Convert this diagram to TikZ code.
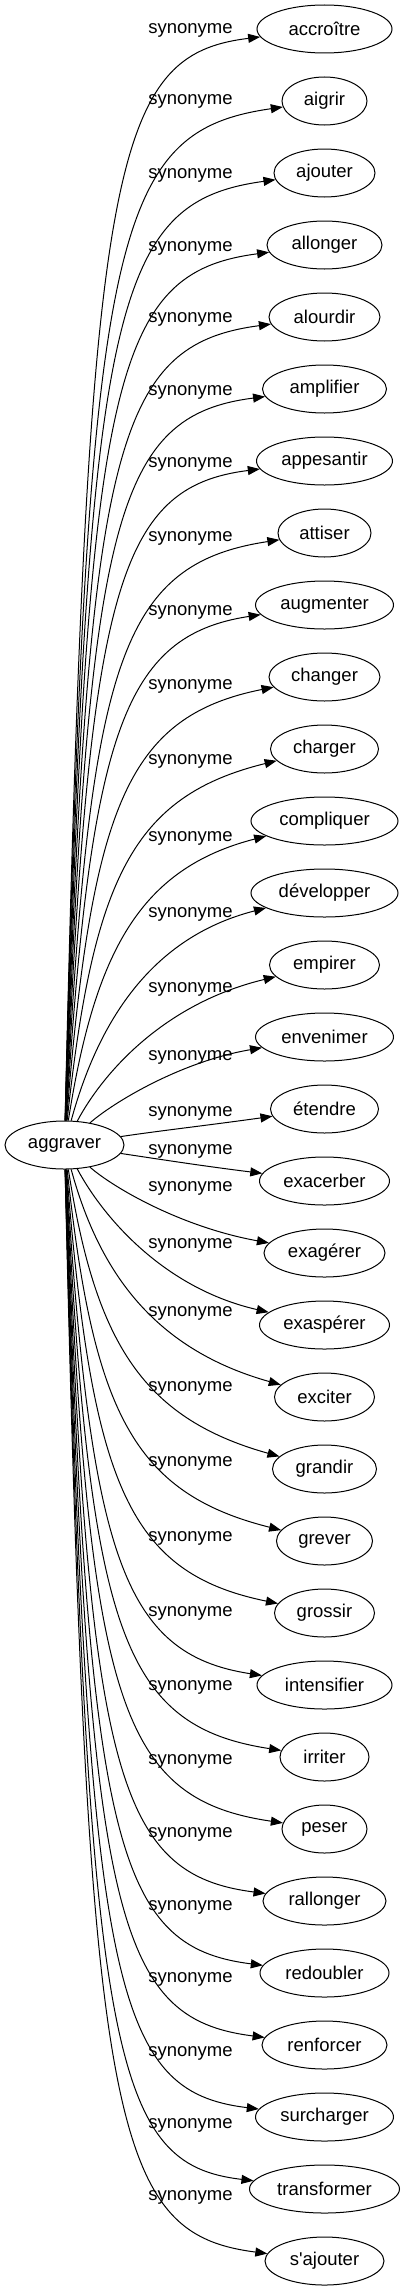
\documentclass[tikz,border=0pt]{standalone}
\usepackage{fontspec}
\setmainfont{Liberation Sans}
\usetikzlibrary{arrows.meta, shapes.geometric}

\begin{document}
\begin{tikzpicture}[
    x=1pt, y=-1pt,
    word/.style={
        ellipse,
        draw=black,
        line width=1pt,
        inner sep=0pt,
        minimum height=48pt,
        font=\fontsize{18.5}{22}\selectfont,
      },
    arr/.style={line width=1pt, -{Triangle[length=12pt, width=9pt]}},
    lbl/.style={font=\fontsize{18.5}{22}\selectfont, inner sep=0pt},
  ]
  \useasboundingbox (0,0) rectangle (404,2291);

  \node[word, minimum width=119pt] (agg) at (64.5,1145) {aggraver};

  % targets: word / ellipse width / label height
  \foreach \word/\wid/\ly [count=\i from 0] in {
      accroître/135/30, aigrir/85/101, ajouter/101/175, allonger/115/248,
      alourdir/111/319, amplifier/124/392, appesantir/136/464, attiser/93/538,
      augmenter/138/612, changer/111/686, charger/108/761, compliquer/147/838,
      développer/147/914, empirer/110/989, envenimer/138/1057, étendre/108/1113,
      exacerber/130/1151, exagérer/121/1188, exaspérer/130/1245, exciter/100/1313,
      grandir/104/1388, grever/96/1463, grossir/100/1538, intensifier/135/1613,
      irriter/89/1687, peser/85/1761, rallonger/123/1834, redoubler/129/1907,
      renforcer/125/1979, surcharger/138/2053, transformer/150/2125,
      s\textquotesingle ajouter/119/2197}{
    \pgfmathsetmacro\yt{29+72*\i}
    \pgfmathsetmacro\dist{abs(1145-\yt)}
    \pgfmathsetmacro\sgn{1145>\yt ? 1 : -1}
    \pgfmathsetmacro\ax{84.5+3500/(\dist+10)}
    \pgfmathsetmacro\ay{1145-\sgn*max(0.4*\dist,\dist-130)}
    \pgfmathsetmacro\bx{110+110*exp(-\dist/250)}
    \pgfmathsetmacro\by{\yt+\sgn*(0.18*(324.5-\wid/2-\bx)+28*exp(-((\dist-300)/200)^2))}
    \node[word, minimum width=\wid pt] (syn\i) at (324.5,\yt) {\word};
    \node[lbl] (lab\i) at (190.5,\ly) {synonyme};
    \draw[arr] (agg) .. controls (\ax,\ay) and (\bx,\by) .. (syn\i);
  }
\end{tikzpicture}
\end{document}
